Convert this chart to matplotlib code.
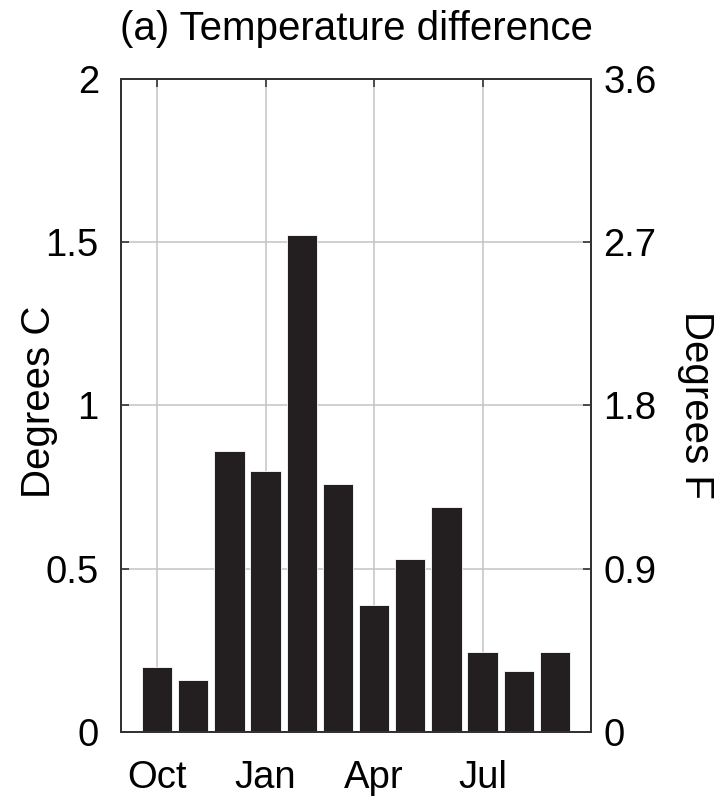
import matplotlib.pyplot as plt
import numpy as np

# monthly temperature difference, Oct..Sep (degrees C)
months = ["Oct", "Nov", "Dec", "Jan", "Feb", "Mar", "Apr", "May", "Jun", "Jul", "Aug", "Sep"]
temp_diff_c = [0.20, 0.16, 0.86, 0.80, 1.52, 0.76, 0.39, 0.53, 0.69, 0.245, 0.187, 0.245]
tick_months = ["Oct", "Jan", "Apr", "Jul"]
c_ticks = [0, 0.5, 1, 1.5, 2]
c_labels = ["0", "0.5", "1", "1.5", "2"]
f_labels = ["0", "0.9", "1.8", "2.7", "3.6"]

plt.rcParams['font.family'] = ['Liberation Sans', 'DejaVu Sans']
plt.rcParams['font.size'] = 27.5

fig = plt.figure(figsize=(7.25, 7.97), dpi=100)
ax = fig.add_axes([0.1669, 0.0816, 0.6483, 0.8197])

x = np.arange(1, len(months) + 1)
ax.bar(x, temp_diff_c, width=0.84, color='#231f20', edgecolor='white', linewidth=0.6, zorder=3)
ax.axhline(0, xmin=0.014, xmax=0.85, color='#231f20', linewidth=2, zorder=4)

ax.set_xlim(0, 13)
ax.set_ylim(0, 2)
tick_pos = [months.index(m) + 1 for m in tick_months]
ax.set_xticks(tick_pos)
ax.set_xticklabels(tick_months)
ax.set_yticks(c_ticks)
ax.set_yticklabels(c_labels)
ax.grid(True, color='#c4c4c8', linewidth=1.1, zorder=0)
ax.set_axisbelow(True)
ax.tick_params(axis='y', direction='in', length=6, width=1.2, color='#333333', pad=16)
ax.tick_params(axis='x', direction='in', length=6, width=1.2, color='#333333',
               top=True, bottom=False, pad=20)
ax.set_ylabel("Degrees C", fontsize=29)
ax.yaxis.set_label_coords(-0.134, 0.505)
for s in ax.spines.values():
    s.set_color('#333333')
    s.set_linewidth(1.4)

ax2 = ax.twinx()
ax2.set_ylim(0, 2)
ax2.set_yticks(c_ticks)
ax2.set_yticklabels(f_labels)
ax2.tick_params(axis='y', direction='in', length=6, width=1.2, color='#333333', pad=9)
ax2.set_ylabel("Degrees F", fontsize=29, rotation=270, labelpad=42)
for s in ax2.spines.values():
    s.set_color('#333333')
    s.set_linewidth(1.4)

ax.set_title("(a) Temperature difference", fontsize=29, pad=28)

fig.savefig("out.png", dpi=100)
